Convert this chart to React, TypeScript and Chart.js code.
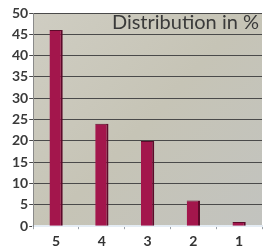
import React, { useEffect, useRef } from "react";
import { Chart, registerables } from "chart.js";

Chart.register(...registerables);

const categories = ["5", "4", "3", "2", "1"];
const distribution = [46, 24, 20, 6, 1];
const yTicks = [0, 5, 10, 15, 20, 25, 30, 35, 40, 45, 50];
const titleText = "Distribution in %";

const plotBg = {
  id: "plotBg",
  beforeDraw(chart: any) {
    const { ctx, chartArea } = chart;
    if (!chartArea) return;
    const { left, top, right, bottom } = chartArea;
    const g = ctx.createLinearGradient(left, top, right, bottom);
    g.addColorStop(0, "#cfcdc2");
    g.addColorStop(0.5, "#c6c4b6");
    g.addColorStop(1, "#c2c3bf");
    ctx.save();
    ctx.fillStyle = g;
    ctx.fillRect(left, top, right - left, bottom - top);
    ctx.restore();
  },
  afterDraw(chart: any) {
    const { ctx, chartArea } = chart;
    ctx.save();
    ctx.font = "20px Lato";
    ctx.fillStyle = "#3a3a3a";
    ctx.textAlign = "right";
    ctx.textBaseline = "middle";
    ctx.fillText(titleText, chartArea.right - 3, chartArea.top + 10);
    ctx.restore();
  },
};

export default function App() {
  const ref = useRef<HTMLCanvasElement>(null);
  useEffect(() => {
    document.body.style.margin = "0";
    const chart = new Chart(ref.current!, {
      type: "bar",
      data: {
        labels: categories,
        datasets: [
          {
            data: distribution,
            backgroundColor: "#a3164c",
            borderColor: "#5c0a2a",
            borderWidth: { right: 2, top: 1, left: 0, bottom: 0 },
            borderSkipped: "bottom",
            categoryPercentage: 1,
            barPercentage: 0.29,
          },
        ],
      },
      options: {
        animation: false,
        responsive: false,
        maintainAspectRatio: false,
        layout: { padding: { left: 11, right: 3, top: 13, bottom: 0 } },
        plugins: { legend: { display: false }, tooltip: { enabled: false } },
        scales: {
          x: {
            grid: { display: true, drawOnChartArea: false, color: "#9aa0a8", tickLength: 3, offset: true },
            border: { color: "#e4ecf4", width: 2 },
            ticks: {
              color: "#333",
              font: { family: "Lato", size: 14, weight: "bold" },
              padding: 4,
            },
          },
          y: {
            min: 0,
            max: 50,
            afterBuildTicks(axis: any) {
              axis.ticks = yTicks.map((v) => ({ value: v }));
            },
            grid: { color: "#4a4a4a", lineWidth: 1, tickLength: 4 },
            border: { color: "#8a8a8a", width: 1 },
            ticks: {
              color: "#3a3a3a",
              font: { family: "Lato", size: 14, weight: "bold" },
              padding: 1,
            },
          },
        },
      },
      plugins: [plotBg],
    });
    return () => chart.destroy();
  }, []);
  return (
    <div style={{ width: 265, height: 246, overflow: "hidden", position: "relative" }}>
      <canvas ref={ref} width={265} height={254} style={{ display: "block" }} />
    </div>
  );
}
